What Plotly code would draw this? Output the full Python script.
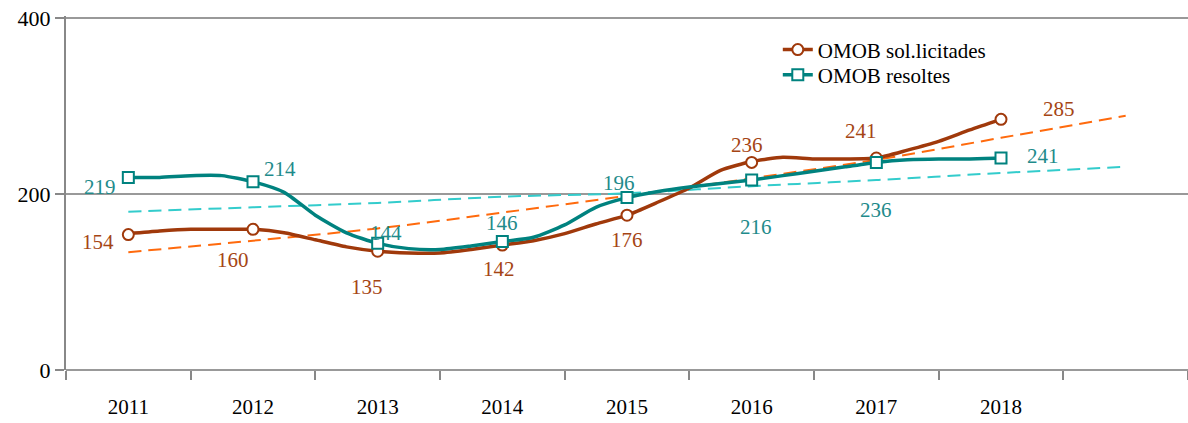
import plotly.graph_objects as go

years = ["2011", "2012", "2013", "2014", "2015", "2016", "2017", "2018"]
year_pos = [0, 1, 2, 3, 4, 5, 6, 7]

# annual values (markers and labels)
sol_annual = [154, 160, 135, 142, 176, 236, 241, 285]
res_annual = [219, 214, 144, 146, 196, 216, 236, 241]

# quarterly line readings
q_pos = [i / 4 for i in range(29)]
sol_line = [155, 158, 160, 160, 160, 156, 148, 140, 135, 133, 133, 137, 142,
            147, 155, 166, 176, 191, 207, 227, 237, 242, 240, 240, 241, 250, 260, 273, 285]
res_line = [219, 219, 221, 221, 214, 202, 176, 156, 144, 138, 137, 141, 146,
            151, 165, 185, 196, 203, 208, 212, 216, 221, 226, 231, 236, 239, 240, 240, 241]

# trend lines (dashed)
trend_pos = [0, 1, 2, 3, 4, 5, 6, 7, 8]
sol_trend = [134, 147, 161, 179, 198, 218, 239, 264, 289]
res_trend = [180, 185, 190, 197, 201, 209, 216, 224, 231]

BROWN = "#A0390B"
TEAL = "#00827F"
ORANGE = "#FF6A0D"
CYAN = "#33CCCC"
BROWN_TXT = "#A54514"
TEAL_TXT = "#1F8B8B"
FONT = "Liberation Serif, Times New Roman, serif"

fig = go.Figure()

fig.add_trace(go.Scatter(x=trend_pos, y=sol_trend, mode="lines", showlegend=False,
                         line=dict(color=ORANGE, width=2, dash="13px,7px", shape="spline")))
fig.add_trace(go.Scatter(x=trend_pos, y=res_trend, mode="lines", showlegend=False,
                         line=dict(color=CYAN, width=2, dash="13px,7px", shape="spline")))

fig.add_trace(go.Scatter(x=q_pos, y=sol_line, mode="lines", showlegend=False,
                         line=dict(color=BROWN, width=3.5, shape="spline", smoothing=0.6)))
fig.add_trace(go.Scatter(x=q_pos, y=res_line, mode="lines", showlegend=False,
                         line=dict(color=TEAL, width=3.5, shape="spline", smoothing=0.6)))

fig.add_trace(go.Scatter(x=year_pos, y=sol_annual, mode="markers", showlegend=False,
                         marker=dict(symbol="circle", size=11, color="white",
                                     line=dict(color=BROWN, width=2))))
fig.add_trace(go.Scatter(x=year_pos, y=res_annual, mode="markers", showlegend=False,
                         marker=dict(symbol="square", size=11, color="white",
                                     line=dict(color=TEAL, width=2))))

# legend entries
fig.add_trace(go.Scatter(x=[None], y=[None], mode="lines+markers", name="OMOB sol.licitades",
                         legend="legend",
                         line=dict(color=BROWN, width=3.5),
                         marker=dict(symbol="circle", size=11, color="white",
                                     line=dict(color=BROWN, width=2))))
fig.add_trace(go.Scatter(x=[None], y=[None], mode="lines+markers", name="OMOB resoltes",
                         legend="legend2",
                         line=dict(color=TEAL, width=3.5),
                         marker=dict(symbol="square", size=11, color="white",
                                     line=dict(color=TEAL, width=2))))

# data labels (offsets in pixels from their points)
res_shift = [(-28, -10), (27, 13), (8, 10), (0, 19), (-8, 15), (4, -47), (0, -48), (42, 2)]
sol_shift = [(-30, -7), (-20, -31), (-11, -36), (-3, -24), (0, -25), (-5, 17), (-15, 27), (58, 10)]
for xp, v, (dx, dy) in zip(year_pos, res_annual, res_shift):
    fig.add_annotation(x=xp, y=v, text=str(v), showarrow=False, xshift=dx, yshift=dy,
                       font=dict(family=FONT, size=21, color=TEAL_TXT))
for xp, v, (dx, dy) in zip(year_pos, sol_annual, sol_shift):
    fig.add_annotation(x=xp, y=v, text=str(v), showarrow=False, xshift=dx, yshift=dy,
                       font=dict(family=FONT, size=21, color=BROWN_TXT))

legend_common = dict(xanchor="left", yanchor="top", bgcolor="rgba(0,0,0,0)",
                     font=dict(family=FONT, size=21, color="black"))

fig.update_layout(
    width=1188, height=423,
    margin=dict(l=66, r=0, t=16, b=53),
    plot_bgcolor="white", paper_bgcolor="white",
    font=dict(family=FONT, color="black"),
    showlegend=True,
    legend=dict(x=0.6344, y=0.962, **legend_common),
    legend2=dict(x=0.6344, y=0.891, **legend_common),
    xaxis=dict(range=[-0.5, 8.5], tickmode="array", tickvals=year_pos, ticktext=years,
               ticks="", showgrid=False, zeroline=False, automargin=False,
               showline=False, tickfont=dict(family=FONT, size=21, color="black"),
               ticklabelstandoff=22, ticklabeloverflow="allow",
               minor=dict(tickmode="array", tickvals=[i - 0.5 for i in range(10)],
                          ticks="outside", ticklen=9, tickcolor="#888888", tickwidth=1.5,
                          showgrid=False)),
    yaxis=dict(range=[0, 402.5], tickmode="array", tickvals=[0, 200, 400],
               ticks="outside", ticklen=9, tickcolor="#888888", tickwidth=1.5,
               showgrid=True, gridcolor="#999999", gridwidth=1.5, automargin=False,
               ticklabeloverflow="allow",
               zeroline=True, zerolinecolor="#999999", zerolinewidth=2,
               showline=True, linecolor="#888888", linewidth=2,
               tickfont=dict(family=FONT, size=22, color="black")),
)

# remove the default page margin so the figure fills the window exactly
fig.write_html("out.html", config={"displayModeBar": False},
               post_script="document.body.style.margin='0';")
